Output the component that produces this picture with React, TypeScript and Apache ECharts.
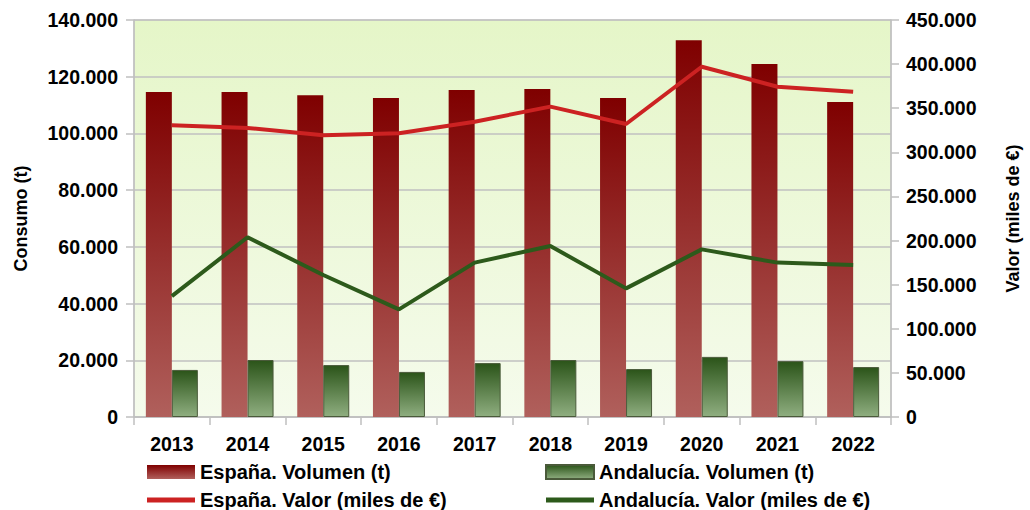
import React, { useEffect, useRef } from "react";
import * as echarts from "echarts";

const years = ["2013", "2014", "2015", "2016", "2017", "2018", "2019", "2020", "2021", "2022"];
const espanaVolumen = [114600, 114600, 113500, 112500, 115300, 115700, 112500, 132900, 124500, 111100];
const andaluciaVolumen = [16600, 20100, 18300, 15900, 19000, 20100, 16900, 21200, 19700, 17600];
const espanaValor = [330600, 327600, 319300, 321600, 334700, 351800, 332100, 397000, 374400, 368800];
const andaluciaValor = [137000, 203700, 161000, 122000, 175000, 193800, 145800, 190000, 175000, 172300];

const FONT = "'Liberation Sans', Arial, sans-serif";
const LINE_ICON = "path://M0,0L48,0L48,5L0,5Z";

function fmt(v: number): string {
  return String(Math.round(v)).replace(/\B(?=(\d{3})+(?!\d))/g, ".");
}

export default function App() {
  const ref = useRef<HTMLDivElement>(null);
  useEffect(() => {
    if (!ref.current) return;
    const chart = echarts.init(ref.current, null, { renderer: "svg" });
    const grad = (a: string, b: string) =>
      new echarts.graphic.LinearGradient(0, 0, 0, 1, [
        { offset: 0, color: a },
        { offset: 1, color: b },
      ]);
    const labelStyle = { color: "#000", fontSize: 19.5, fontWeight: "bold" as const, fontFamily: FONT };
    const legendText = { color: "#000", fontSize: 20, fontWeight: "bold" as const, fontFamily: FONT, lineHeight: 20 };
    chart.setOption({
      animation: false,
      backgroundColor: "#fff",
      grid: {
        left: 134,
        right: 132,
        top: 20,
        bottom: 93,
        show: true,
        backgroundColor: grad("#e5f6c8", "#f5fbec"),
        borderColor: "#c0c0c0",
        borderWidth: 1,
      },
      legend: [
        {
          orient: "vertical",
          left: 147,
          top: 462,
          height: 120,
          padding: 0,
          itemWidth: 48,
          itemHeight: 14,
          itemGap: 8,
          textStyle: legendText,
          data: [
            { name: "España. Volumen (t)", icon: "rect" },
            { name: "España. Valor (miles de €)", icon: LINE_ICON },
          ],
        },
        {
          orient: "vertical",
          left: 545,
          top: 462,
          height: 120,
          padding: 0,
          itemWidth: 48,
          itemHeight: 14,
          itemGap: 8,
          textStyle: legendText,
          data: [
            { name: "Andalucía. Volumen (t)", icon: "rect" },
            { name: "Andalucía. Valor (miles de €)", icon: LINE_ICON },
          ],
        },
      ],
      xAxis: {
        type: "category",
        data: years,
        boundaryGap: true,
        axisLine: { lineStyle: { color: "#bfbfbf", width: 1.5 } },
        axisTick: { show: true, length: 8, lineStyle: { color: "#bfbfbf", width: 1.5 } },
        axisLabel: { ...labelStyle, margin: 17 },
        splitLine: { show: false },
      },
      yAxis: [
        {
          type: "value",
          min: 0,
          max: 140000,
          interval: 20000,
          name: "Consumo (t)",
          nameLocation: "middle",
          nameRotate: 90,
          nameGap: 104,
          nameTextStyle: { color: "#000", fontSize: 18, fontWeight: "bold", fontFamily: FONT },
          axisLine: { show: true, lineStyle: { color: "#bfbfbf", width: 1.5 } },
          axisTick: { show: true, length: 8, lineStyle: { color: "#bfbfbf", width: 1.5 } },
          axisLabel: { ...labelStyle, margin: 16, formatter: (v: number) => fmt(v) },
          splitLine: { show: true, lineStyle: { color: "#c0c0c0", width: 1.5 } },
        },
        {
          type: "value",
          min: 0,
          max: 450000,
          interval: 50000,
          position: "right",
          name: "Valor (miles de €)",
          nameLocation: "middle",
          nameRotate: 90,
          nameGap: 113,
          nameTextStyle: { color: "#000", fontSize: 18, fontWeight: "bold", fontFamily: FONT },
          axisLine: { show: true, lineStyle: { color: "#bfbfbf", width: 1.5 } },
          axisTick: { show: true, length: 8, lineStyle: { color: "#bfbfbf", width: 1.5 } },
          axisLabel: { ...labelStyle, margin: 15, formatter: (v: number) => fmt(v) },
          splitLine: { show: false },
        },
      ],
      series: [
        {
          name: "España. Volumen (t)",
          type: "bar",
          yAxisIndex: 0,
          data: espanaVolumen,
          barWidth: 26,
          barGap: "0%",
          itemStyle: { color: grad("#7f0000", "#b0605c") },
        },
        {
          name: "Andalucía. Volumen (t)",
          type: "bar",
          yAxisIndex: 0,
          data: andaluciaVolumen,
          barWidth: 26,
          barGap: "0%",
          itemStyle: { color: grad("#2b5419", "#8fae80"), borderColor: "#4a5a3a", borderWidth: 1 },
        },
        {
          name: "España. Valor (miles de €)",
          type: "line",
          yAxisIndex: 1,
          data: espanaValor,
          symbol: "none",
          lineStyle: { color: "#cc2222", width: 4 },
          itemStyle: { color: "#cc2222" },
          z: 5,
        },
        {
          name: "Andalucía. Valor (miles de €)",
          type: "line",
          yAxisIndex: 1,
          data: andaluciaValor,
          symbol: "none",
          lineStyle: { color: "#2d5a1b", width: 4 },
          itemStyle: { color: "#2d5a1b" },
          z: 5,
        },
      ],
    });
    return () => chart.dispose();
  }, []);
  return (
    <div
      ref={ref}
      style={{ position: "absolute", left: 0, top: 0, width: 1030, height: 510 }}
    />
  );
}
